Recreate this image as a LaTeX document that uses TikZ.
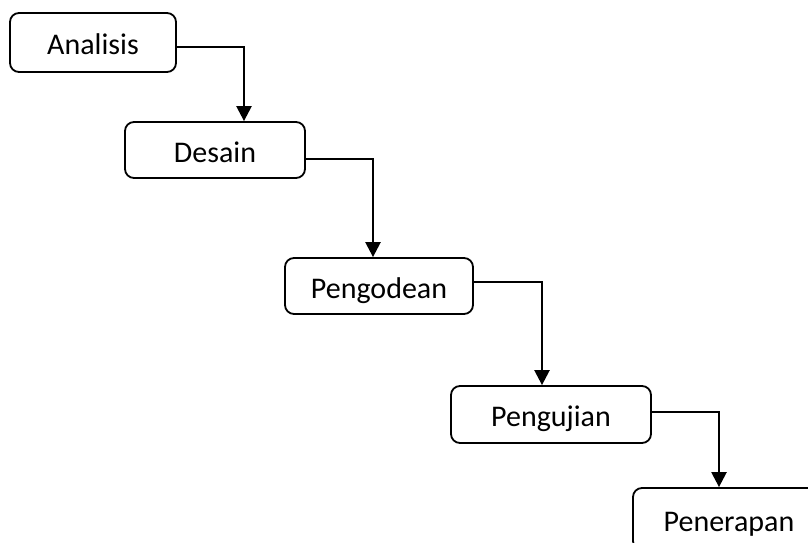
\documentclass[tikz,border=0pt]{standalone}
\usepackage{fontspec}
\setmainfont{Carlito}
\usetikzlibrary{arrows.meta}
\tikzset{
  stage/.style={draw, rounded corners=9pt, line width=1.8pt,
    inner sep=0pt, text height=24.5pt, text depth=0pt,
    font=\fontsize{30}{32}\selectfont},
  flow/.style={line width=2.4pt, -{Triangle[length=15pt,width=15pt]}}
}

\begin{document}
\begin{tikzpicture}[x=1pt,y=-1pt]

% fix the frame of the picture
\useasboundingbox (0,0) rectangle (808,543);
\clip (0,0) rectangle (808,543);

% Draw the stages
\node[stage, minimum width=166pt, minimum height=59pt] (ana) at (93,42.5)  {Analisis};
\node[stage, minimum width=180pt, minimum height=56pt] (des) at (215,150)  {Desain};
\node[stage, minimum width=188pt, minimum height=56pt] (kod) at (379,286)  {Pengodean};
\node[stage, minimum width=200pt, minimum height=57pt] (uji) at (551,414.5) {Pengujian};
\node[stage, minimum width=192pt, minimum height=62pt] (tra) at (729,519)  {Penerapan};

% Draw the steps between the stages
\draw[flow] ([yshift=-4.5pt]ana.east) -| ([xshift=29pt]des.north);
\draw[flow] ([yshift=-9pt]des.east)   -| ([xshift=-6pt]kod.north);
\draw[flow] ([yshift=4pt]kod.east)    -| ([xshift=-9pt]uji.north);
\draw[flow] ([yshift=2.5pt]uji.east)  -| ([xshift=-10pt]tra.north);

\end{tikzpicture}
\end{document}
